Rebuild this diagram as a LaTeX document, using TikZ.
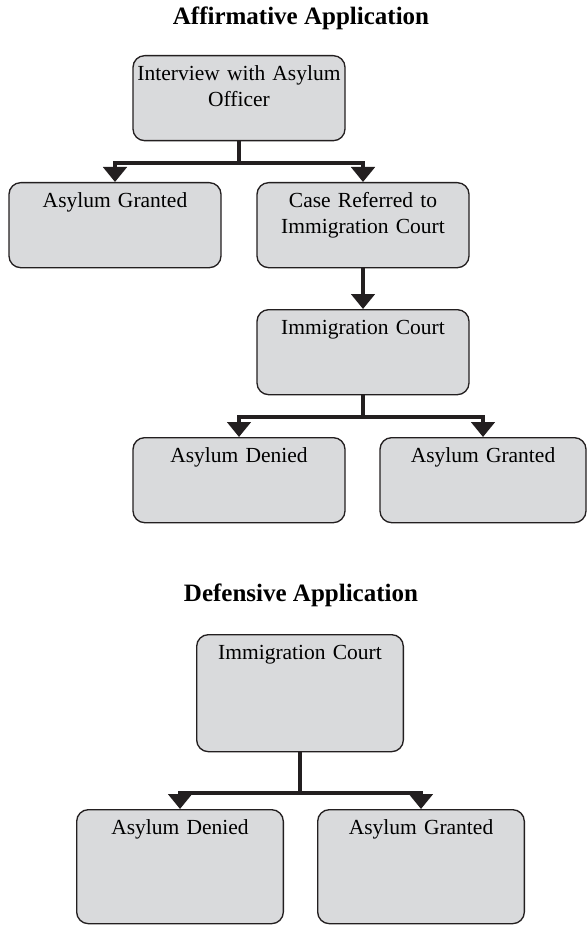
\documentclass[tikz,border=0pt]{standalone}
\usepackage{fontspec}
\setmainfont{Liberation Serif}
\usetikzlibrary{arrows.meta}
\definecolor{boxgray}{HTML}{D9DADC}
\definecolor{inkdark}{HTML}{231F20}
\tikzset{
  stage/.style={draw=inkdark, fill=boxgray, line width=0.8pt, rounded corners=7pt,
    anchor=north, inner xsep=1pt, inner ysep=6pt, align=center, text width=125pt,
    minimum width=127.2pt, text height=9pt, text depth=30pt,
    font=\fontsize{12.9}{15.6}\selectfont},
  heading/.style={font=\fontsize{15}{18}\selectfont\bfseries},
  feed/.style={draw=inkdark, line width=2.5pt},
  flow/.style={feed, -{Triangle[width=14pt,length=9pt]}},
}
\begin{document}
\begin{tikzpicture}[x=0.6pt,y=-0.6pt]
        \useasboundingbox (0,0) rectangle (586,925);
        % affirmative
        \node[heading] (title1) at (301,18) {Affirmative Application};
        \node[stage] (interview) at (239,55) {Interview with Asylum\\Officer};
        \node[stage] (granted1) at (115,182) {Asylum Granted};
        \node[stage] (referred) at (363,182) {Case Referred to\\Immigration Court};
        \node[stage] (court1) at (363,309) {Immigration Court};
        \node[stage] (denied1) at (239,437) {Asylum Denied};
        \node[stage, text width=121pt, minimum width=123.6pt] (granted2) at (483,437) {Asylum Granted};
        \coordinate (split1) at (239,163);
        \coordinate (split2) at (363,417);
        \draw[feed] (interview.south) -- (split1);
        \draw[flow] (split1) -| (granted1.north);
        \draw[flow] (split1) -| (referred.north);
        \draw[flow] (referred.south) -- (court1.north);
        \draw[feed] (court1.south) -- (split2);
        \draw[flow] (split2) -| (denied1.north);
        \draw[flow] (split2) -| (granted2.north);
        % defensive
        \node[heading] (title2) at (301,595) {Defensive Application};
        \node[stage, text width=121pt, minimum width=124pt, text depth=49.2pt] (court2) at (300,634) {Immigration Court};
        \node[stage, text width=121pt, minimum width=124pt, text depth=47.4pt] (denied2) at (180,809) {Asylum Denied};
        \node[stage, text width=121pt, minimum width=124pt, text depth=47.4pt] (granted3) at (421,809) {Asylum Granted};
        \coordinate (split3) at (300,793);
        \draw[feed] (court2.south) -- (split3);
        \draw[flow] (split3) -| (denied2.north);
        \draw[flow] (split3) -| (granted3.north);
\end{tikzpicture}
\end{document}
